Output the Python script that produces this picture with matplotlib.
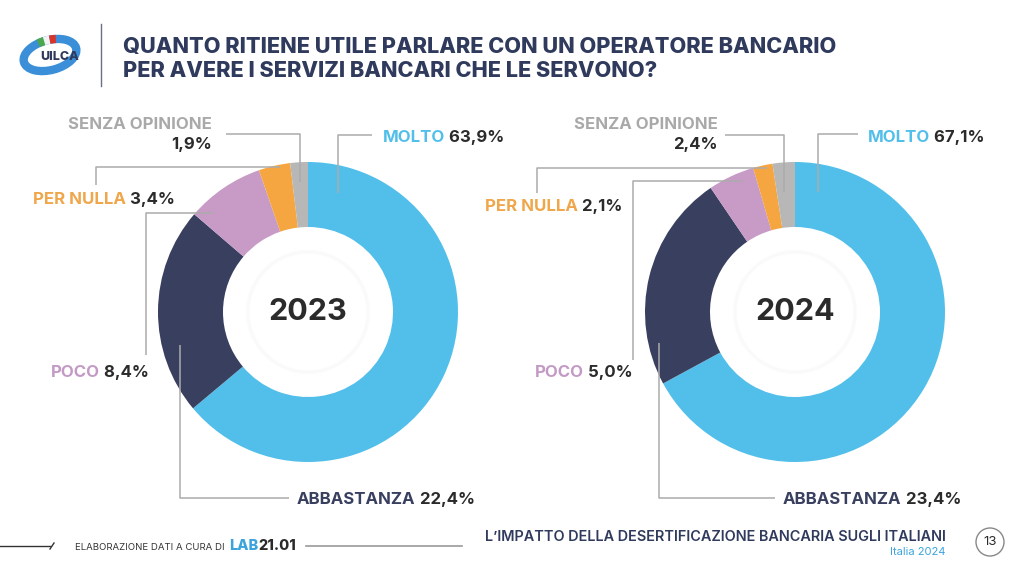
import matplotlib.pyplot as plt
from matplotlib.patches import Circle, Ellipse, Arc

plt.rcParams['font.family'] = ['Inter', 'DejaVu Sans']

# data
categories = ['MOLTO', 'ABBASTANZA', 'POCO', 'PER NULLA', 'SENZA OPINIONE']
years = ['2023', '2024']
values_2023 = [63.9, 22.4, 8.4, 3.4, 1.9]
values_2024 = [67.1, 23.4, 5.0, 2.1, 2.4]

wedge_colors = ['#52BFEA', '#383F5F', '#C89BC6', '#F5A640', '#B7B7B7']
text_colors = ['#52BFEA', '#383F5F', '#C39AC6', '#F0A64A', '#A9A9A9']
NUM_COL = '#2B2B2B'
NAVY = '#2F3A5C'
LINE_COL = '#ABABAB'

W, H = 1024, 576
fig = plt.figure(figsize=(W / 100, H / 100), dpi=100)

# donut centers / radius in pixels
centers = [(308, 312), (795, 312)]
R = 150
R_IN = 85

# leader lines (pixel paths) and label anchors, per donut, per category
leaders = [
    [[(338, 193), (338, 135), (372, 135)],
     [(180, 345), (180, 498), (289, 498)],
     [(213, 213), (146, 213), (146, 355)],
     [(280, 167), (96, 167), (96, 185)],
     [(300, 182), (300, 134), (226, 134)]],
    [[(818, 192), (818, 134), (858, 134)],
     [(659, 343), (659, 498), (775, 498)],
     [(743, 181), (633, 181), (633, 360)],
     [(767, 168), (537, 168), (537, 193)],
     [(784, 192), (784, 135), (725, 135)]],
]
# left x, baseline y for single-line labels (SENZA is right-aligned two lines)
label_pos = [
    [(383, 142), (297, 504), (51, 377), (33, 204), (212, 129)],
    [(868, 142), (783, 504), (535, 377), (485, 211), (718, 129)],
]

all_values = [values_2023, values_2024]

for (cx, cy), vals, yr in zip(centers, all_values, years):
    ax = fig.add_axes([(cx - R) / W, (H - cy - R) / H, 2 * R / W, 2 * R / H])
    ax.pie(vals, colors=wedge_colors, startangle=90, counterclock=False,
           radius=1, wedgeprops=dict(width=(R - R_IN) / R, linewidth=0))
    # soft inner shadow
    for k in range(4):
        ax.add_patch(Circle((0, 0), 0.385 + 0.008 * k, fill=False,
                            ec='#000000', lw=1.5, alpha=0.012))
    ax.add_patch(Circle((0, 0), 0.385, color='white', zorder=3))
    ax.text(0, 0, yr, ha='center', va='center', fontsize=22, fontweight='bold',
            color=NUM_COL, zorder=4)
    ax.set_xlim(-1, 1)
    ax.set_ylim(-1, 1)
    ax.set_aspect('auto')
    ax.axis('off')

ov = fig.add_axes([0, 0, 1, 1], zorder=10)
ov.set_facecolor('none')
ov.set_xlim(0, W)
ov.set_ylim(H, 0)
ov.axis('off')

fs = 12.1
for d in range(2):
    vals = all_values[d]
    for i, cat in enumerate(categories):
        path = leaders[d][i]
        ov.plot([p[0] for p in path], [p[1] for p in path], color=LINE_COL, lw=1.1,
                solid_capstyle='butt')
        num = f'{vals[i]:.1f}%'.replace('.', ',')
        x, y = label_pos[d][i]
        if cat == 'SENZA OPINIONE':
            ov.text(x, y, cat, ha='right', va='baseline', fontsize=fs,
                    fontweight='bold', color=text_colors[i])
            ov.text(x, y + 20, num, ha='right', va='baseline', fontsize=fs,
                    fontweight='bold', color=NUM_COL)
        else:
            t = ov.text(x, y, cat, ha='left', va='baseline', fontsize=fs,
                        fontweight='bold', color=text_colors[i])
            ov.annotate(' ' + num, xy=(1, 0), xycoords=t, ha='left', va='bottom',
                        fontsize=fs, fontweight='bold', color=NUM_COL)

# header
ov.plot([101, 101], [24, 86], color='#6A7088', lw=1)
ov.text(123, 53, 'QUANTO RITIENE UTILE PARLARE CON UN OPERATORE BANCARIO',
        fontsize=15.6, fontweight='heavy', color=NAVY, va='baseline')
ov.text(123, 77, 'PER AVERE I SERVIZI BANCARI CHE LE SERVONO?',
        fontsize=15.6, fontweight='heavy', color=NAVY, va='baseline')

# logo (approximation)
ov.add_patch(Ellipse((50, 55), 54, 30, angle=-15, fill=False, ec='#3A8FD8', lw=6))
ov.add_patch(Arc((50, 55), 54, 30, angle=-15, theta1=240, theta2=262, ec='#4BA84A', lw=6))
ov.add_patch(Arc((50, 55), 54, 30, angle=-15, theta1=262, theta2=284, ec='#F2F2F2', lw=6))
ov.add_patch(Arc((50, 55), 54, 30, angle=-15, theta1=284, theta2=305, ec='#D9342B', lw=6))
ov.text(60, 57, 'UILCA', fontsize=9, fontweight='heavy', color=NAVY,
        ha='center', va='center')

# footer
ov.plot([0, 50], [546, 546], color='#333333', lw=1)
ov.plot([50, 54], [549, 543], color='#333333', lw=1)
ov.text(75, 548, 'ELABORAZIONE DATI A CURA DI', fontsize=6.9, color='#333333',
        va='center')
lab = ov.text(229, 546, 'LAB', fontsize=10.5, fontweight='heavy', color='#3BA4DC',
              va='center')
ov.annotate('21.01', xy=(1, 0), xycoords=lab, ha='left', va='bottom', fontsize=10.5,
            fontweight='heavy', color='#2B2B2B')
ov.plot([306, 462], [546, 546], color='#999999', lw=1.2)
ov.text(946, 537, 'L\u2019IMPATTO DELLA DESERTIFICAZIONE BANCARIA SUGLI ITALIANI',
        fontsize=10.4, fontweight='semibold', color=NAVY, ha='right', va='center')
ov.text(946, 552, 'Italia 2024', fontsize=8, color='#3BA4DC', ha='right', va='center')
ov.add_patch(Circle((990, 542), 14, fill=False, ec='#888888', lw=1))
ov.text(990, 542, '13', fontsize=9.5, color='#2B2B2B', ha='center', va='center')

fig.savefig('out.png', dpi=100, facecolor='white')
